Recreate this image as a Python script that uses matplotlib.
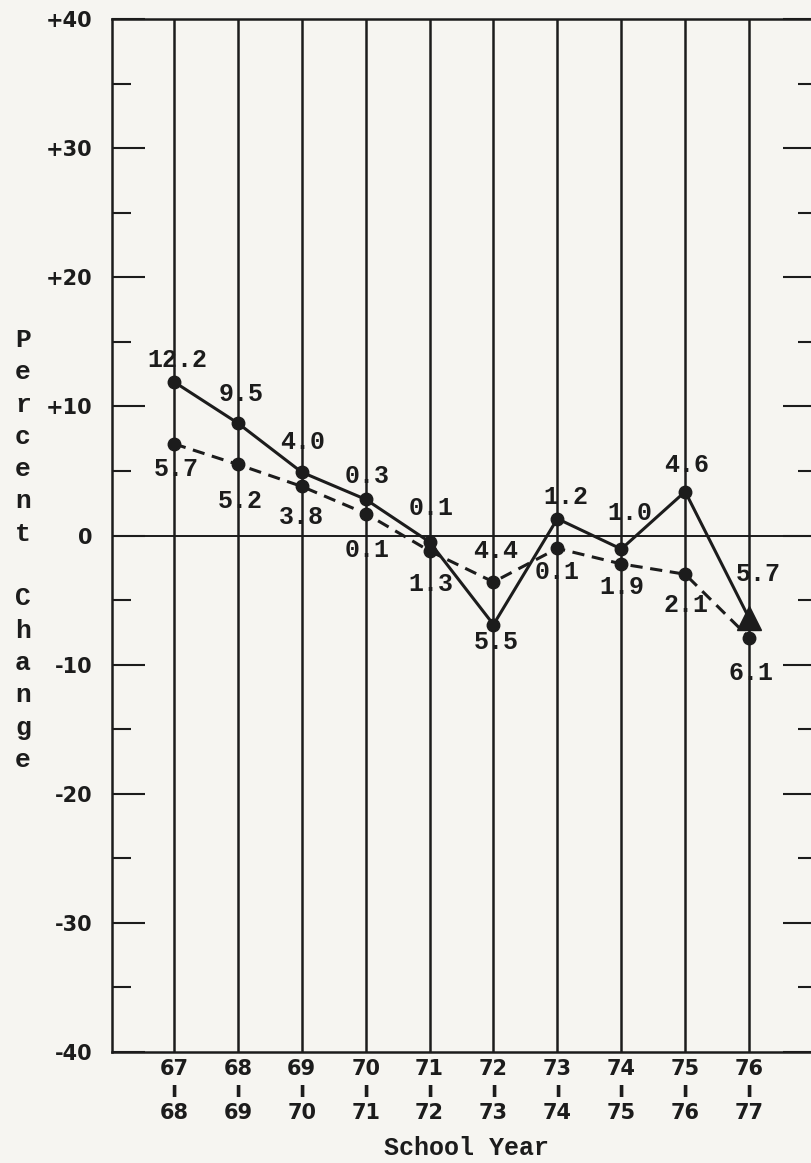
import matplotlib
matplotlib.use("Agg")
import matplotlib.pyplot as plt
import numpy as np

# ---------------- data ----------------
years_start = ["67", "68", "69", "70", "71", "72", "73", "74", "75", "76"]
years_end = ["68", "69", "70", "71", "72", "73", "74", "75", "76", "77"]

solid_values = [11.9, 8.7, 4.9, 2.8, -0.5, -6.9, 1.3, -1.05, 3.4, -6.4]
dashed_values = [7.1, 5.5, 3.8, 1.7, -1.2, -3.6, -1.0, -2.2, -3.0, -7.9]

solid_labels = ["12.2", "9.5", "4.0", "0.3", "0.1", "5.5", "1.2", "1.0", "4.6", "5.7"]
dashed_labels = ["5.7", "5.2", "3.8", "0.1", "1.3", "4.4", "0.1", "1.9", "2.1", "6.1"]

y_major = [40, 30, 20, 10, 0, -10, -20, -30, -40]
y_major_labels = ["+40", "+30", "+20", "+10", "0", "-10", "-20", "-30", "-40"]
y_minor = [35, 25, 15, 5, -5, -15, -25, -35]

y_title = "Percent Change"
x_title = "School Year"

# ---------------- styling / layout ----------------
ink = "#1c1c1c"
paper = "#f6f5f1"
W, H = 812, 1163

# label offsets (pixels: dx, dy-up) relative to each point
solid_offsets = [(3, 22), (3, 29), (1, 30), (1, 23), (2, 34), (3, -17), (9, 22), (9, 36), (1, 27), (9, 44)]
dashed_offsets = [(2, -25), (2, -37), (0, -31), (1, -36), (1, -33), (2, 31), (0, -24), (1, -23), (1, -31), (2, -35)]

fig = plt.figure(figsize=(W / 100, H / 100), dpi=100, facecolor=paper)
ax = fig.add_axes([112 / W, 1 - 1052 / H, (W - 112) / W, (1052 - 19) / H])
ax.set_facecolor(paper)

x = np.arange(len(years_start))
ax.set_xlim(-0.970, 9.985)
ax.set_ylim(-40, 40)

# vertical grid lines and zero line
for xi in x:
    ax.axvline(xi, color=ink, lw=1.8, zorder=1)
ax.axhline(0, color=ink, lw=1.4, zorder=1)

# solid series
ax.plot(x, solid_values, "-", color=ink, lw=2.2, zorder=3)
ax.plot(x[:-1], solid_values[:-1], "o", color=ink, ms=9, zorder=4)
ax.plot(x[-1:], solid_values[-1:], "^", color=ink, ms=17, zorder=4)

# dashed series
ax.plot(x, dashed_values, color=ink, lw=2.2, ls=(0, (4, 2.5)), marker="o", ms=9, zorder=3)

lab_font = dict(family="Liberation Mono", fontsize=18, fontweight="bold", color=ink)
for xi, v, t, (dx, dy) in zip(x, solid_values, solid_labels, solid_offsets):
    ax.annotate(t, (xi, v), xytext=(dx, dy), textcoords="offset pixels",
                ha="center", va="center", zorder=5, **lab_font)
for xi, v, t, (dx, dy) in zip(x, dashed_values, dashed_labels, dashed_offsets):
    ax.annotate(t, (xi, v), xytext=(dx, dy), textcoords="offset pixels",
                ha="center", va="center", zorder=5, **lab_font)

# spines
for s in ["left", "top", "bottom"]:
    ax.spines[s].set_linewidth(1.8)
    ax.spines[s].set_color(ink)
ax.spines["right"].set_visible(False)

# y ticks (left)
ax.set_yticks(y_major, y_major_labels)
ax.set_yticks(y_minor, minor=True)
ax.tick_params(axis="y", which="major", direction="in", length=24, width=1.5,
               color=ink, pad=14, labelsize=15, labelcolor=ink, right=False)
ax.tick_params(axis="y", which="minor", direction="in", length=13.5, width=1.5,
               color=ink, right=False)
for lbl in ax.get_yticklabels():
    lbl.set_fontfamily("DejaVu Sans")
    lbl.set_fontweight("bold")

# x ticks
ax.set_xticks(x, [f"{a}\n\u0131\n{b}" for a, b in zip(years_start, years_end)])
ax.tick_params(axis="x", which="both", length=0, pad=5, labelsize=15, labelcolor=ink)
for lbl in ax.get_xticklabels():
    lbl.set_fontfamily("DejaVu Sans")
    lbl.set_fontweight("bold")
    lbl.set_linespacing(1.14)

# right-hand ticks (no labels)
ax2 = ax.twinx()
ax2.set_ylim(-40, 40)
for s in ax2.spines.values():
    s.set_visible(False)
ax2.set_yticks(y_major, [""] * len(y_major))
ax2.set_yticks(y_minor, minor=True)
ax2.tick_params(axis="y", which="major", direction="in", length=21, width=1.5, color=ink)
ax2.tick_params(axis="y", which="minor", direction="in", length=10, width=1.5, color=ink)

# stacked y title (one letter per row)
y0 = 340
for i, ch in enumerate(y_title):
    if ch != " ":
        fig.text(23 / W, 1 - (y0 + i * 32.3) / H, ch, ha="center", va="center",
                 family="Liberation Mono", fontsize=19, fontweight="bold", color=ink)

fig.text(467 / W, 1 - 1148 / H, x_title, ha="center", va="center",
         family="Liberation Mono", fontsize=18, fontweight="bold", color=ink)

fig.savefig("out.png", dpi=100, facecolor=paper)
